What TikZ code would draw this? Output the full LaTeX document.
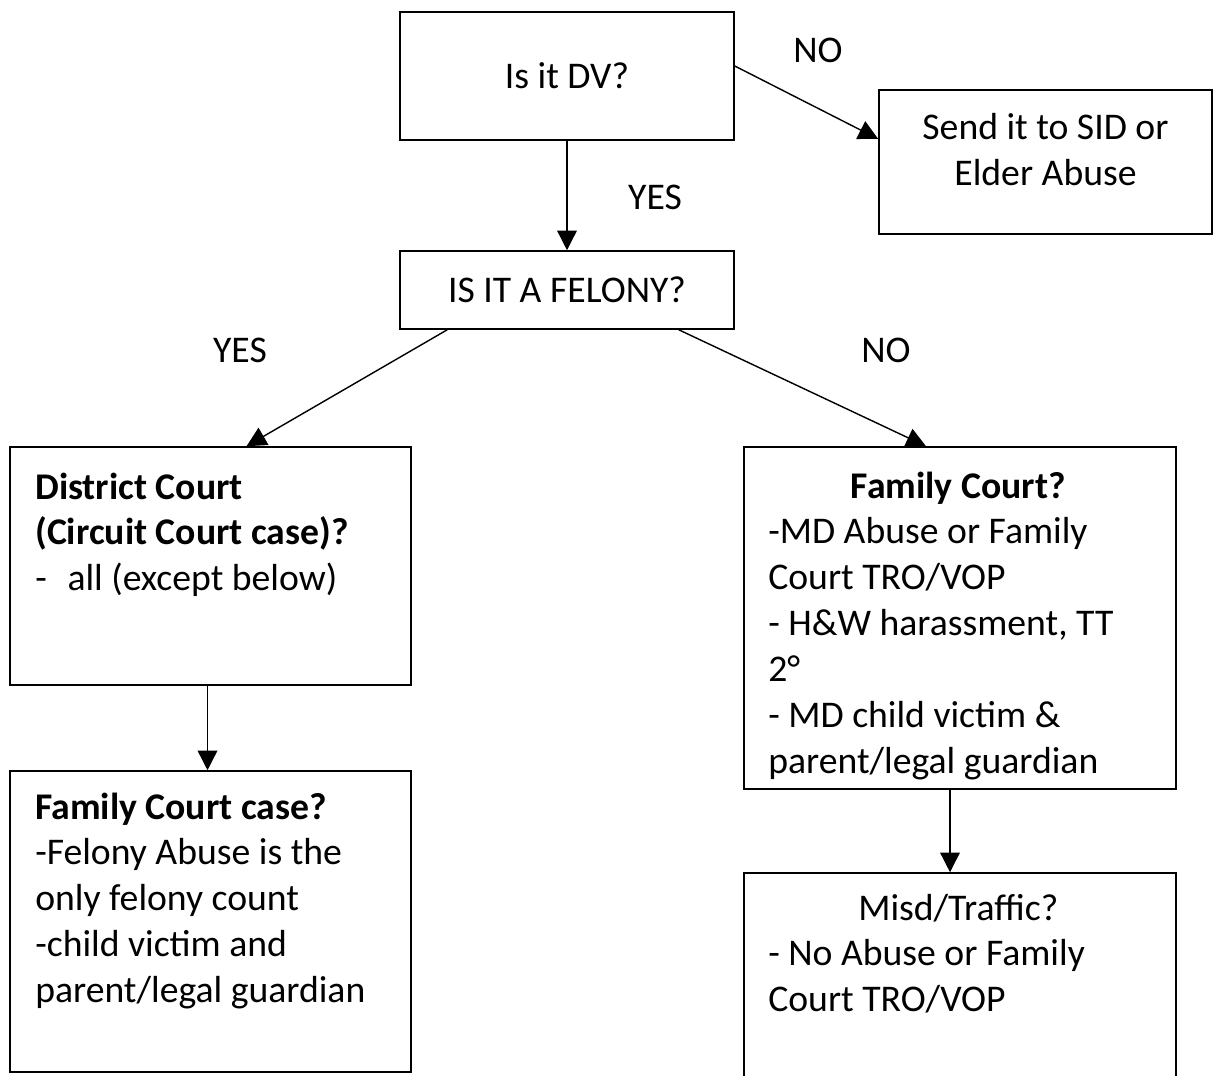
\documentclass[tikz,border=0pt]{standalone}
\usepackage{fontspec}
\setmainfont{Carlito}
\usetikzlibrary{arrows.meta,positioning,calc}

\begin{document}
\begin{tikzpicture}[x=0.025cm,y=-0.025cm,
  box/.style={draw,line width=1.1pt,inner sep=0pt},
  txt/.style={inner sep=0pt,font=\fontsize{26.8}{32.7}\selectfont},
  flow/.style={-{Triangle[length=14pt,width=14pt]},line width=1pt}]
  \clip (0,0) rectangle (1214,1076);
  % boxes
  \node[box,txt,minimum width=334*0.025cm,minimum height=128*0.025cm] (dv) at (567,76) {Is it DV?};
  \node[box,minimum width=333*0.025cm,minimum height=144*0.025cm] (sid) at (1045.5,162) {};
  \node[box,txt,minimum width=334*0.025cm,minimum height=78*0.025cm] (felony) at (567,290) {IS IT A FELONY?};
  \node[box,minimum width=401*0.025cm,minimum height=238*0.025cm] (district) at (210.5,566) {};
  \node[box,minimum width=401*0.025cm,minimum height=301*0.025cm] (famcase) at (210.5,921.5) {};
  \node[box,minimum width=432*0.025cm,minimum height=342*0.025cm] (famq) at (960,618) {};
  \node[box,minimum width=432*0.025cm,minimum height=227*0.025cm] (misd) at (960,986.5) {};
  % box texts
  \node[txt,anchor=base,text width=281*0.025cm,align=flush center] (sidtxt) at (1045.5,140) {Send it to SID or\\Elder Abuse};
  \node[txt,anchor=base west,text width=349*0.025cm,align=flush left] (districttxt) at (35,499)
    {\textbf{District Court}\\\textbf{(Circuit Court case)?}\\-\hspace{0.55em}all (except below)};
  \node[txt,anchor=base west,text width=349*0.025cm,align=flush left] (casetxt) at (35,819)
    {\textbf{Family Court case?}\\-Felony Abuse is the\\only felony count\\-child victim and\\parent/legal guardian};
  \node[txt,anchor=base west,text width=380*0.025cm,align=flush left] (famqtxt) at (768,498)
    {\makebox[\linewidth]{\textbf{Family Court?}}\\-MD Abuse or Family\\Court TRO/VOP\\- H\&W harassment, TT\\2°\\- MD child victim \&\\parent/legal guardian};
  \node[txt,anchor=base west,text width=380*0.025cm,align=flush left] (misdtxt) at (768,920)
    {\makebox[\linewidth]{Misd/Traffic?}\\- No Abuse or Family\\Court TRO/VOP};
  % answers
  \node[txt] (dvno) at (818,50) {NO};
  \node[txt] (dvyes) at (655,197) {YES};
  \node[txt] (felyes) at (240,350) {YES};
  \node[txt] (felno) at (886,350) {NO};
  % connectors
  \draw[flow] ($(dv.east)+(0,-10)$) -- ($(sid.west)+(0,-23)$);
  \draw[flow] (dv.south) -- (felony.north);
  \draw[flow] ($(felony.south west)+(48,0)$) -- ($(district.north)+(36,0)$);
  \draw[flow] ($(felony.south east)+(-56,0)$) -- ($(famq.north)+(-34,0)$);
  \draw[flow] ($(district.south)+(-3,0)$) -- ($(famcase.north)+(-3,0)$);
  \draw[flow] ($(famq.south)+(-10,0)$) -- ($(misd.north)+(-10,0)$);
\end{tikzpicture}
\end{document}
